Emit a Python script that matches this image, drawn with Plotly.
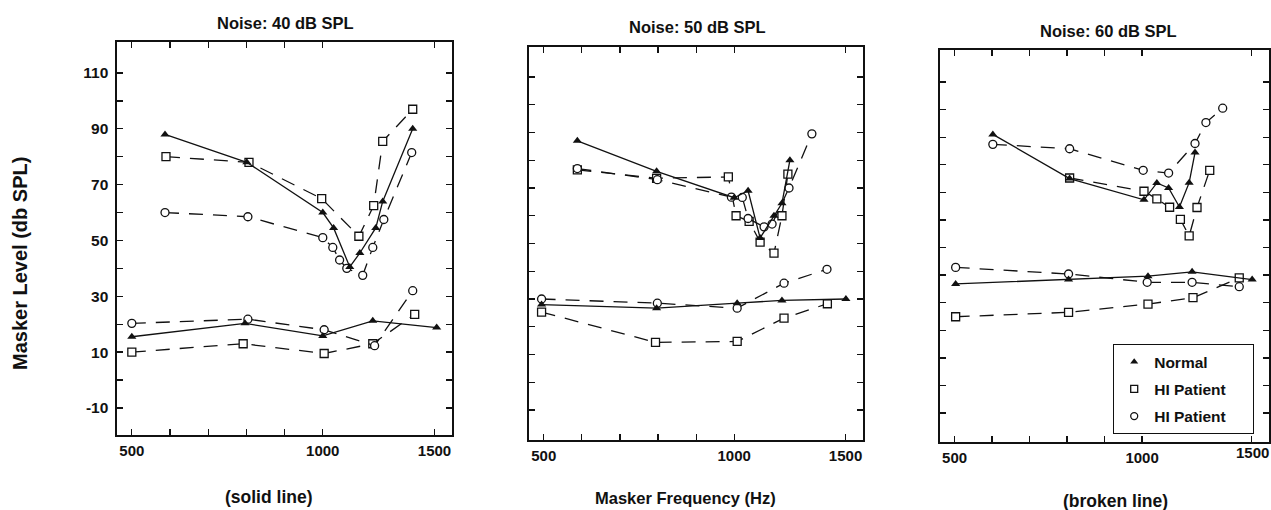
import plotly.graph_objects as go

# ---------------- data (frequency in Hz, masker level in dB SPL) ----------------
# Panel 1: Noise 40 dB SPL
p1_norm_up_f = [564, 759, 1000, 1040, 1103, 1144, 1212, 1243, 1386]
p1_norm_up_v = [88, 78, 60, 54.5, 40.5, 45.5, 54.5, 64, 90]
p1_sq_up_f = [566, 765, 996, 1140, 1203, 1243, 1386]
p1_sq_up_v = [80, 78, 65, 51.5, 62.5, 85.5, 97]
p1_ci_up_f = [564, 762, 1000, 1037, 1063, 1091, 1156, 1199, 1248, 1381]
p1_ci_up_v = [60, 58.5, 51, 47.5, 43, 40, 37.5, 47.5, 57.5, 81.5]
p1_norm_lo_f = [500, 754, 1000, 1199, 1512]
p1_norm_lo_v = [15.5, 20.3, 15.8, 21.2, 18.8]
p1_sq_lo_f = [500, 749, 1005, 1199, 1396]
p1_sq_lo_v = [10, 13, 9.5, 13, 23.5]
p1_ci_lo_f = [500, 762, 1005, 1207, 1386]
p1_ci_lo_v = [20.3, 21.8, 18, 12.3, 32]

# Panel 2: Noise 50 dB SPL
p2_norm_up_f = [565, 754, 1000, 1052, 1099, 1156, 1190, 1225]
p2_norm_up_v = [87, 76, 66.5, 69, 52, 60, 64.5, 80]
p2_sq_up_f = [565, 754, 979, 1007, 1056, 1099, 1156, 1190, 1216]
p2_sq_up_v = [76.5, 73.5, 74, 60, 58, 50.5, 46.5, 60, 75]
p2_ci_up_f = [565, 756, 990, 1030, 1052, 1115, 1148, 1221, 1327]
p2_ci_up_v = [77, 73, 66.7, 66.6, 59, 56, 57, 70, 89.5]
p2_norm_lo_f = [496, 754, 1011, 1190, 1502]
p2_norm_lo_v = [28, 26.7, 28.5, 29.5, 30]
p2_sq_lo_f = [496, 751, 1011, 1199, 1404]
p2_sq_lo_v = [25.3, 14.4, 14.7, 23.1, 28.3]
p2_ci_lo_f = [496, 756, 1011, 1199, 1402]
p2_ci_lo_v = [30, 28.5, 26.7, 35.7, 40.7]

# Panel 3: Noise 60 dB SPL
p3_norm_up_f = [576, 765, 1007, 1056, 1103, 1148, 1190, 1216]
p3_norm_up_v = [91, 75, 67.3, 73.4, 71.6, 64.7, 73.5, 84.4]
p3_sq_up_f = [765, 1007, 1056, 1107, 1152, 1190, 1225, 1284]
p3_sq_up_v = [75.2, 70.4, 67.6, 64.6, 60.2, 54.2, 64.5, 78]
p3_ci_up_f = [576, 765, 1004, 1103, 1216, 1266, 1347]
p3_ci_up_v = [87.4, 85.8, 78, 77, 87.7, 95.3, 100.5]
p3_norm_lo_f = [502, 762, 1022, 1203, 1502]
p3_norm_lo_v = [36.8, 38.4, 39.6, 41.2, 38.4]
p3_sq_lo_f = [502, 762, 1022, 1207, 1432]
p3_sq_lo_v = [24.9, 26.5, 29.5, 31.8, 39]
p3_ci_lo_f = [502, 762, 1019, 1203, 1432]
p3_ci_lo_v = [42.8, 40.4, 37.4, 37.4, 35.8]

panel_titles = ["Noise: 40 dB SPL", "Noise: 50 dB SPL", "Noise: 60 dB SPL"]
bottom_texts = ["(solid line)", "Masker Frequency (Hz)", "(broken line)"]
y_title = "Masker Level (db SPL)"
legend_names = ["Normal", "HI Patient", "HI Patient"]

x_tickvals = [500, 574, 660, 758, 871, 1000, 1500]
x_ticktext = ["500", "", "", "", "", "1000", "1500"]
y_tickvals = list(range(-10, 111, 10))
y_ticktext = [str(v) if v % 20 != 0 else "" for v in y_tickvals]

# ---------------- figure ----------------
W, H = 1271, 510
FONT = "Liberation Sans, Arial, Helvetica, sans-serif"
BLACK = "#111111"


def fx(px):
    return px / W


def fy(py):
    return 1 - py / H


panels = [
    (p1_norm_up_f, p1_norm_up_v, p1_sq_up_f, p1_sq_up_v, p1_ci_up_f, p1_ci_up_v,
     p1_norm_lo_f, p1_norm_lo_v, p1_sq_lo_f, p1_sq_lo_v, p1_ci_lo_f, p1_ci_lo_v),
    (p2_norm_up_f, p2_norm_up_v, p2_sq_up_f, p2_sq_up_v, p2_ci_up_f, p2_ci_up_v,
     p2_norm_lo_f, p2_norm_lo_v, p2_sq_lo_f, p2_sq_lo_v, p2_ci_lo_f, p2_ci_lo_v),
    (p3_norm_up_f, p3_norm_up_v, p3_sq_up_f, p3_sq_up_v, p3_ci_up_f, p3_ci_up_v,
     p3_norm_lo_f, p3_norm_lo_v, p3_sq_lo_f, p3_sq_lo_v, p3_ci_lo_f, p3_ci_lo_v),
]

# pixel boxes of the panels: (left, right, top, bottom)
boxes = [(117, 452, 42, 435), (529, 863, 47, 440), (940, 1269, 50, 442)]
y_ranges = [[-19.7, 121.1], [-20.8, 120.8], [-20.5, 121.6]]

fig = go.Figure()

marker_norm = dict(symbol="triangle-up", size=8, color=BLACK, line=dict(width=0))
marker_sq = dict(symbol="square", size=8, color="white", line=dict(width=1.3, color=BLACK))
marker_ci = dict(symbol="circle", size=8, color="white", line=dict(width=1.3, color=BLACK))
solid = dict(color=BLACK, width=1.3)
dashed = dict(color=BLACK, width=1.3, dash="14px,10px")

for i, p in enumerate(panels):
    xa = "x" if i == 0 else f"x{i+1}"
    ya = "y" if i == 0 else f"y{i+1}"
    (nuf, nuv, suf, suv, cuf, cuv, nlf, nlv, slf, slv, clf, clv) = p
    for xs, vs, ln, mk in [
        (suf, suv, dashed, marker_sq), (cuf, cuv, dashed, marker_ci),
        (slf, slv, dashed, marker_sq), (clf, clv, dashed, marker_ci),
        (nuf, nuv, solid, marker_norm), (nlf, nlv, solid, marker_norm),
    ]:
        fig.add_trace(go.Scatter(x=xs, y=vs, mode="lines+markers", line=ln, marker=mk,
                                 xaxis=xa, yaxis=ya, showlegend=False, hoverinfo="skip"))

# legend-only entries
for k, (name, mk) in enumerate(zip(legend_names, [marker_norm, marker_sq, marker_ci])):
    m = dict(mk)
    m["size"] = 7
    fig.add_trace(go.Scatter(x=[None], y=[None], mode="markers", marker=m,
                             name=name + "\u00a0" * 5,
                             xaxis="x3", yaxis="y3", showlegend=True, legendgroup=f"g{k}"))

layout = dict(
    width=W, height=H, margin=dict(l=0, r=0, t=0, b=0),
    paper_bgcolor="white", plot_bgcolor="white",
    font=dict(family=FONT, size=15, color=BLACK, weight="bold"),
    showlegend=True, hovermode=False,
    legend=dict(x=fx(1113), y=fy(344), xanchor="left", yanchor="top",
                bgcolor="white", bordercolor=BLACK, borderwidth=1.2,
                font=dict(family=FONT, size=15.5, color=BLACK, weight="bold"),
                tracegroupgap=4, itemwidth=30),
)

for i, (l, r, t, b) in enumerate(boxes):
    xk = "xaxis" if i == 0 else f"xaxis{i+1}"
    yk = "yaxis" if i == 0 else f"yaxis{i+1}"
    ya = "y" if i == 0 else f"y{i+1}"
    xa = "x" if i == 0 else f"x{i+1}"
    ttext = list(x_ticktext)
    if i == 2:
        ttext[-1] = ""  # drawn as an annotation so it is not hidden at the page edge
    layout[xk] = dict(
        domain=[fx(l), fx(r)], anchor=ya, type="log", range=[2.6756, 3.2037],
        tickvals=x_tickvals, ticktext=ttext, ticks="inside", ticklen=6,
        tickwidth=1.3, tickcolor=BLACK, showline=True, linecolor=BLACK, linewidth=1.6,
        mirror="ticks", showgrid=False, zeroline=False, ticklabelstandoff=1,
        tickfont=dict(family=FONT, size=15, color=BLACK, weight="bold"),
    )
    layout[yk] = dict(
        domain=[fy(b), fy(t)], anchor=xa, range=y_ranges[i],
        tickvals=y_tickvals, ticktext=y_ticktext, ticks="inside", ticklen=6,
        tickwidth=1.3, tickcolor=BLACK, showline=True, linecolor=BLACK, linewidth=1.6,
        mirror="ticks", showgrid=False, zeroline=False, showticklabels=(i == 0),
        ticklabelstandoff=4,
        tickfont=dict(family=FONT, size=15.5, color=BLACK, weight="bold"),
    )

annotations = []
title_pos = [(285, 23), (697, 27), (1108, 31)]
for txt, (px, py) in zip(panel_titles, title_pos):
    annotations.append(dict(text=f"<b>{txt}</b>", x=fx(px), y=fy(py), xref="paper", yref="paper",
                            showarrow=False, xanchor="center", yanchor="middle",
                            font=dict(family=FONT, size=16.5, color=BLACK)))
bottom_pos = [(269, 497), (685, 498), (1115, 501)]
bottom_sizes = [17.5, 16.5, 17.5]
for txt, (px, py), fs in zip(bottom_texts, bottom_pos, bottom_sizes):
    annotations.append(dict(text=f"<b>{txt}</b>", x=fx(px), y=fy(py), xref="paper", yref="paper",
                            showarrow=False, xanchor="center", yanchor="middle",
                            font=dict(family=FONT, size=fs, color=BLACK)))
annotations.append(dict(text=f"<b>{y_title}</b>", x=fx(20), y=fy(264), xref="paper", yref="paper",
                        showarrow=False, xanchor="center", yanchor="middle", textangle=-90,
                        font=dict(family=FONT, size=20, color=BLACK)))
# last tick label of the third panel (same text as the tick list)
annotations.append(dict(text=x_ticktext[-1], x=fx(1252), y=fy(452), xref="paper", yref="paper",
                        showarrow=False, xanchor="center", yanchor="middle",
                        font=dict(family=FONT, size=15, color=BLACK, weight="bold")))
layout["annotations"] = annotations

fig.update_layout(**layout)
fig.write_html(
    "out.html",
    config={"displayModeBar": False, "staticPlot": True},
    post_script="document.documentElement.style.overflow='hidden';"
                "document.body.style.margin='0';document.body.style.overflow='hidden';",
)
